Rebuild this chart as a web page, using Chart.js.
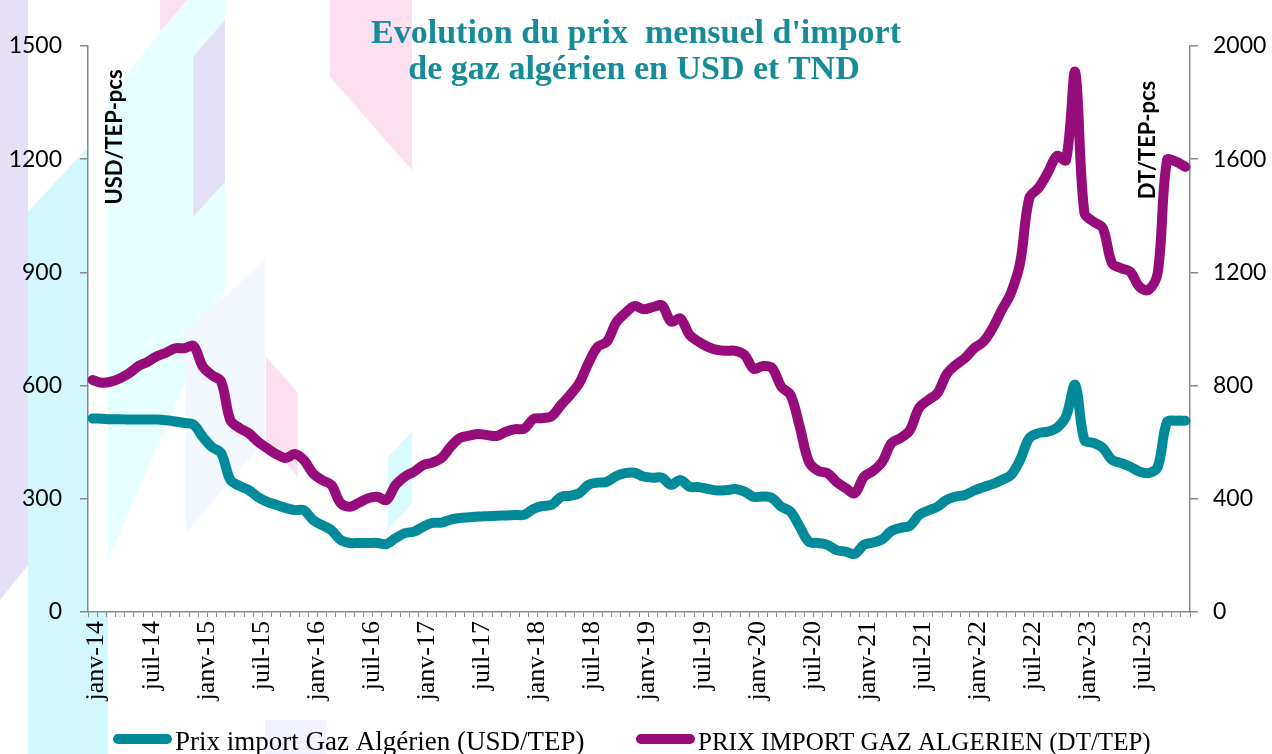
<!DOCTYPE html>
<html>
<head>
<meta charset="utf-8">
<script src="https://cdn.jsdelivr.net/npm/chart.js@4.4.0/dist/chart.umd.min.js"></script>
<style>
  html, body { margin: 0; padding: 0; background: #fff; }
</style>
</head>
<body>
<canvas id="myChart" width="1272" height="754"></canvas>
<script>
// months shown on the x axis (Jan 2014 -> Dec 2023)
const monthNames = ['janv', 'févr', 'mars', 'avr', 'mai', 'juin', 'juil', 'août', 'sept', 'oct', 'nov', 'déc']
const years = ['14', '15', '16', '17', '18', '19', '20', '21', '22', '23']

// USD/TEP, left axis
const prixUsd = [
  513, 512, 511, 511, 510, 510, 510, 510, 508, 505, 501, 496,
  464, 437, 421, 350, 334, 323, 305, 292, 284, 276, 270, 270,
  244, 230, 217, 191, 183, 183, 183, 183, 180, 196, 209, 213,
  226, 236, 237, 245, 249, 251, 253, 254, 255, 256, 257, 258,
  273, 281, 284, 305, 308, 315, 337, 343, 345, 360, 368, 369,
  359, 356, 356, 337, 350, 332, 331, 326, 322, 323, 326, 319,
  305, 306, 302, 279, 266, 226, 186, 183, 178, 164, 160, 154,
  178, 184, 193, 215, 223, 228, 257, 269, 279, 297, 306, 310,
  322, 331, 339, 350, 363, 403, 461, 474, 478, 488, 518, 602,
  456, 448, 435, 403, 395, 385, 372, 368, 385, 504, 507, 507
]

// DT/TEP, right axis
const prixDt = [
  820, 810, 814, 826, 844, 869, 884, 904, 916, 932, 932, 940,
  867, 837, 814, 678, 650, 632, 602, 579, 558, 544, 558, 537,
  490, 466, 449, 385, 372, 386, 402, 407, 396, 449, 478, 496,
  519, 528, 544, 584, 615, 623, 629, 625, 622, 637, 646, 648,
  682, 685, 692, 731, 767, 809, 880, 937, 955, 1022, 1056, 1081,
  1070, 1077, 1083, 1026, 1037, 979, 955, 937, 926, 923, 923, 908,
  859, 869, 862, 796, 767, 655, 531, 499, 491, 460, 438, 420,
  478, 499, 531, 597, 615, 643, 721, 749, 773, 840, 873, 897,
  932, 955, 1003, 1067, 1127, 1233, 1463, 1498, 1551, 1611, 1597, 1908,
  1410, 1379, 1357, 1233, 1215, 1202, 1149, 1138, 1202, 1597, 1591, 1573
]

const titleLines = ["Evolution du prix  mensuel d'import", 'de gaz algérien en USD et TND']
const seriesNames = ['Prix import Gaz Algérien (USD/TEP)', 'PRIX IMPORT GAZ ALGERIEN (DT/TEP)']
const axisTitles = ['USD/TEP-pcs', 'DT/TEP-pcs']

const labels = []
for (let y of years) {
  for (let m of monthNames) labels.push(m + '-' + y)
}

const teal = '#018b9a'
const purple = '#960c7b'
const axisGrey = '#898989'

// pastel shapes of the slide background
const bgShapes = [
  { c: '#e5e0f5', p: [[0, 0], [28, 0], [28, 565], [0, 600]] },
  { c: '#d3f8fc', p: [[28, 212], [88, 147], [88, 612], [108, 612], [108, 754], [28, 754]] },
  { c: '#e6ffff', p: [[108, 97], [187, 0], [225, 0], [225, 290], [108, 560]] },
  { c: '#e4e0f5', p: [[193, 57], [225, 20], [225, 182], [193, 217]] },
  { c: '#fde0f0', p: [[160, 0], [187, 0], [160, 32]] },
  { c: '#fde0f0', p: [[330, 0], [412, 0], [412, 170], [330, 77]] },
  { c: '#f3f7ff', p: [[186, 332], [265, 260], [265, 440], [186, 533]] },
  { c: '#fde0f0', p: [[266, 357], [298, 393], [298, 477], [266, 440]] },
  { c: '#d8fbff', p: [[388, 457], [412, 432], [412, 503], [388, 530]] },
  { c: '#f3f3ff', p: [[265, 720], [326, 720], [326, 754], [265, 754]] }
]

const background = {
  id: 'background',
  beforeDraw(chart) {
    const ctx = chart.ctx
    ctx.save()
    ctx.fillStyle = '#fff'
    ctx.fillRect(0, 0, chart.width, chart.height)
    for (let s of bgShapes) {
      ctx.fillStyle = s.c
      ctx.beginPath()
      s.p.forEach((pt, i) => i ? ctx.lineTo(pt[0], pt[1]) : ctx.moveTo(pt[0], pt[1]))
      ctx.closePath()
      ctx.fill()
    }
    ctx.restore()
  }
}

function roundBar(ctx, x, y, w, h) {
  const r = h / 2
  ctx.beginPath()
  ctx.moveTo(x + r, y)
  ctx.lineTo(x + w - r, y)
  ctx.arc(x + w - r, y + r, r, -Math.PI / 2, Math.PI / 2)
  ctx.lineTo(x + r, y + h)
  ctx.arc(x + r, y + r, r, Math.PI / 2, Math.PI * 1.5)
  ctx.closePath()
  ctx.fill()
}

const overlayText = {
  id: 'overlayText',
  afterDraw(chart) {
    const ctx = chart.ctx
    ctx.save()
    ctx.fillStyle = '#168c99'
    ctx.font = 'bold 34px "Liberation Serif"'
    ctx.textAlign = 'center'
    ctx.textBaseline = 'alphabetic'
    ctx.fillText(titleLines[0], 636, 43)
    ctx.fillText(titleLines[1], 634, 79)
    ctx.restore()

    // rotated unit labels inside the plot
    const units = [[axisTitles[0], 115, 137], [axisTitles[1], 1148, 140]]
    for (let u of units) {
      ctx.save()
      ctx.fillStyle = '#000'
      ctx.font = 'bold 22px Lato'
      ctx.textAlign = 'center'
      ctx.textBaseline = 'middle'
      ctx.translate(u[1], u[2])
      ctx.rotate(-Math.PI / 2)
      ctx.fillText(u[0], 0, 0)
      ctx.restore()
    }

    // legend
    const items = [[chart.data.datasets[0], 113, 27], [chart.data.datasets[1], 636, 25]]
    ctx.save()
    ctx.textBaseline = 'alphabetic'
    ctx.textAlign = 'left'
    for (let it of items) {
      ctx.fillStyle = it[0].borderColor
      roundBar(ctx, it[1], 734, 59, 10)
      ctx.fillStyle = '#000'
      ctx.font = it[2] + 'px "Liberation Serif"'
      ctx.fillText(it[0].label, it[1] + 62, 750)
    }
    ctx.restore()
  }
}

const myChartRef = document.getElementById('myChart').getContext('2d')

new Chart(myChartRef, {
  type: 'line',
  data: {
    labels: labels,
    datasets: [
      {
        label: seriesNames[0],
        data: prixUsd,
        yAxisID: 'y',
        borderColor: teal,
        backgroundColor: teal,
        borderWidth: 10,
        tension: 0.35,
        pointRadius: 0,
        borderCapStyle: 'round',
        borderJoinStyle: 'round'
      },
      {
        label: seriesNames[1],
        data: prixDt,
        yAxisID: 'y1',
        borderColor: purple,
        backgroundColor: purple,
        borderWidth: 10,
        tension: 0.35,
        pointRadius: 0,
        borderCapStyle: 'round',
        borderJoinStyle: 'round'
      }
    ]
  },
  options: {
    responsive: false,
    animation: false,
    layout: { padding: { top: 46, left: 0, right: 0, bottom: 40 } },
    scales: {
      x: {
        offset: true,
        grid: { offset: true, drawOnChartArea: false, tickLength: 5, color: axisGrey, lineWidth: 1 },
        border: { color: axisGrey, width: 1.5 },
        ticks: {
          autoSkip: false,
          minRotation: 90,
          maxRotation: 90,
          padding: 4,
          labelOffset: 4,
          color: '#000',
          font: { family: 'Liberation Serif', size: 26 },
          callback: function (value, index) {
            return index % 6 === 0 ? this.getLabelForValue(value) : ''
          }
        },
        afterFit: s => { s.height = 102 }
      },
      y: {
        position: 'left',
        min: 0,
        max: 1500,
        grid: { drawOnChartArea: false, tickLength: 8, color: axisGrey, lineWidth: 1.5 },
        border: { color: axisGrey, width: 1.5 },
        ticks: { stepSize: 300, padding: 18, color: '#000', font: { family: 'Lato', size: 23 }, callback: v => String(v) },
        afterFit: s => { s.width = 88 }
      },
      y1: {
        position: 'right',
        min: 0,
        max: 2000,
        grid: { drawOnChartArea: false, tickLength: 8, color: axisGrey, lineWidth: 1.5 },
        border: { color: axisGrey, width: 1.5 },
        ticks: { stepSize: 400, padding: 15, color: '#000', font: { family: 'Lato', size: 23 }, callback: v => String(v) },
        afterFit: s => { s.width = 82 }
      }
    },
    plugins: {
      tooltip: { enabled: false },
      legend: { display: false }
    }
  },
  plugins: [background, overlayText]
})
</script>
</body>
</html>
